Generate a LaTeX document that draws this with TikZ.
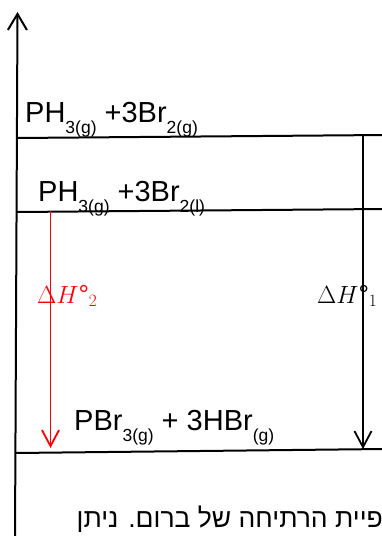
\documentclass[tikz,border=0pt]{standalone}
\usepackage{fontspec}
\setmainfont{Liberation Sans}
\newfontfamily\hebfont[Script=Hebrew]{Liberation Sans}
\TeXXeTstate=1
\usetikzlibrary{arrows.meta,positioning}
\newcommand{\lowsub}[1]{\raisebox{-0.4em}{\fontsize{17.5}{17.5}\selectfont #1}}
\tikzset{
  level/.style  ={line width=2pt},
  axis/.style   ={line width=2pt,-{Straight Barb[length=16pt,width=19pt]}},
  enth/.style   ={line width=1.8pt,-{Straight Barb[length=16pt,width=17pt]}},
  species/.style={inner sep=0pt,anchor=base west,font=\fontsize{29}{29}\selectfont},
  dhlabel/.style={inner sep=0pt,anchor=base west,font=\fontsize{26}{26}\selectfont}
}
\begin{document}
\begin{tikzpicture}[x=1pt,y=-1pt]
    \useasboundingbox (0,0) rectangle (382,536);
    % energy axis
    \coordinate (axb) at (15,538);
    \coordinate (axt) at (17.5,12);
    \draw[axis] (axb) -- (axt);
    % levels
    \coordinate (l1a) at (17,138);   \coordinate (l1b) at (384,135);
    \coordinate (l2a) at (16.5,212); \coordinate (l2b) at (384,209);
    \coordinate (l3a) at (15.5,453); \coordinate (l3b) at (384,449);
    \draw[level] (l1a) -- (l1b);
    \draw[level] (l2a) -- (l2b);
    \draw[level] (l3a) -- (l3b);
    \node[species] (top) at (25,122) {PH\lowsub{3(g)} +3Br\lowsub{2(g)}};
    \node[species] (mid) at (38,201) {PH\lowsub{3(g)} +3Br\lowsub{2(l)}};
    \node[species] (bot) at (74,430) {PBr\lowsub{3(g)} + 3HBr\lowsub{(g)}};
    % enthalpy arrows
    \coordinate (h1a) at (363,135); \coordinate (h1b) at (363,449);
    \coordinate (h2a) at (50.5,211); \coordinate (h2b) at (50.5,448);
    \draw[enth] (h1a) -- (h1b);
    \draw[enth,red] (h2a) -- (h2b);
    \node[dhlabel,red] (dh2) at (37,303) {$\Delta H$°$_{2}$};
    \node[dhlabel] (dh1) at (317,303) {$\Delta H$°$_{1}$};
    \node[inner sep=0pt,anchor=base east,font=\hebfont\fontsize{26.5}{26.5}\selectfont] (note) at (383,527)
      {\beginR פיית הרתיחה של ברום. ניתן\endR};
\end{tikzpicture}
\end{document}
